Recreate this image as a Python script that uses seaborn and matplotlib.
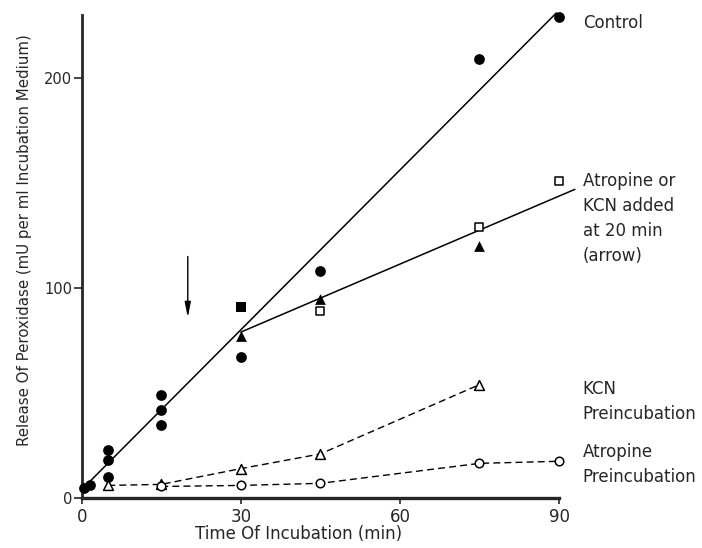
import numpy as np
import pandas as pd
import matplotlib
matplotlib.use("Agg")
import matplotlib.pyplot as plt
import seaborn as sns

# ---------------- data ----------------
control_x = [0.5, 1.5, 5, 5, 5, 15, 15, 15, 30, 45, 75, 90]
control_y = [5, 6, 23, 18, 10, 49, 42, 35, 67, 108, 209, 229]
control_fit_x = [0, 89.5]
control_fit_y = [4, 231]

kcn_added_x = [30, 45, 75]          # filled triangles
kcn_added_y = [77, 95, 120]
atr_added_x = [45, 75, 90]          # open squares
atr_added_y = [89, 129, 151]
both_added_x = [30]                 # filled square
both_added_y = [91]
added_fit_x = [30, 93]
added_fit_y = [79, 147]

kcn_pre_x = [5, 15, 30, 45, 75]     # open triangles
kcn_pre_y = [6, 6.5, 14, 21, 54]
atr_pre_x = [15, 30, 45, 75, 90]    # open circles
atr_pre_y = [5.5, 6, 7, 16.5, 17.5]

arrow_x = 20
arrow_from = 115
arrow_to = 86

x_ticks = [0, 30, 60, 90]
y_ticks = [0, 100, 200]

labels = ["Control",
          "Atropine or\nKCN added\nat 20 min\n(arrow)",
          "KCN\nPreincubation",
          "Atropine\nPreincubation"]
label_y = [226, 133, 46, 16]

# ---------------- figure ----------------
sns.set_style("ticks")
plt.rcParams["font.family"] = ["DejaVu Sans"]

fig = plt.figure(figsize=(7.02, 5.48), dpi=100)
ax = fig.add_axes([0.1164, 0.0912, 0.6799, 0.8814])

black = "black"

# fitted lines
sns.lineplot(x=control_fit_x, y=control_fit_y, ax=ax, color=black, lw=1.1,
             sort=False, estimator=None)
sns.lineplot(x=added_fit_x, y=added_fit_y, ax=ax, color=black, lw=1.1,
             sort=False, estimator=None)
# dashed preincubation lines
sns.lineplot(x=kcn_pre_x, y=kcn_pre_y, ax=ax, color=black, lw=1.0,
             sort=False, estimator=None, linestyle=(0, (5, 3)))
sns.lineplot(x=atr_pre_x, y=atr_pre_y, ax=ax, color=black, lw=1.0,
             sort=False, estimator=None, linestyle=(0, (5, 3)))
for l in ax.lines:
    l.set_clip_on(False)

# markers
sns.scatterplot(x=control_x, y=control_y, ax=ax, marker="o", s=60,
                color=black, edgecolor=black, linewidth=0, zorder=5, clip_on=False)
sns.scatterplot(x=kcn_added_x, y=kcn_added_y, ax=ax, marker="^", s=60,
                color=black, edgecolor=black, linewidth=0, zorder=5)
sns.scatterplot(x=both_added_x, y=both_added_y, ax=ax, marker="s", s=55,
                color=black, edgecolor=black, linewidth=0, zorder=5)
sns.scatterplot(x=atr_added_x, y=atr_added_y, ax=ax, marker="s", s=32,
                facecolor="white", edgecolor=black, linewidth=1.1, zorder=5, clip_on=False)
sns.scatterplot(x=kcn_pre_x, y=kcn_pre_y, ax=ax, marker="^", s=50,
                facecolor="white", edgecolor=black, linewidth=1.1, zorder=5)
sns.scatterplot(x=atr_pre_x, y=atr_pre_y, ax=ax, marker="o", s=38,
                facecolor="white", edgecolor=black, linewidth=1.1, zorder=5, clip_on=False)

# arrow
ax.annotate("", xy=(arrow_x, arrow_to), xytext=(arrow_x, arrow_from),
            arrowprops=dict(arrowstyle="-|>,head_length=0.9,head_width=0.18",
                            color=black, lw=1.0, shrinkA=0, shrinkB=0))

# series labels on the right
for txt, yy in zip(labels, label_y):
    ax.text(94.5, yy, txt, ha="left", va="center", fontsize=12,
            linespacing=1.5, clip_on=False)

ax.set_xlim(0, 90)
ax.set_ylim(0, 230)
ax.set_xticks(x_ticks)
ax.set_yticks(y_ticks)
ax.tick_params(axis="y", direction="out", length=6, width=1.2, labelsize=10.5, pad=1)
ax.tick_params(axis="x", direction="out", length=4, width=1.2, labelsize=12, pad=3)
sns.despine(ax=ax)
ax.spines["left"].set_linewidth(2.0)
ax.spines["bottom"].set_linewidth(2.4)

ax.set_xlabel("Time Of Incubation (min)", fontsize=12, labelpad=1)
ax.xaxis.set_label_coords(0.455, -0.055)
ax.set_ylabel("Release Of Peroxidase (mU per ml Incubation Medium)", fontsize=10.8)
ax.yaxis.set_label_coords(-0.105, 0.535)

fig.savefig("out.png", dpi=100)
